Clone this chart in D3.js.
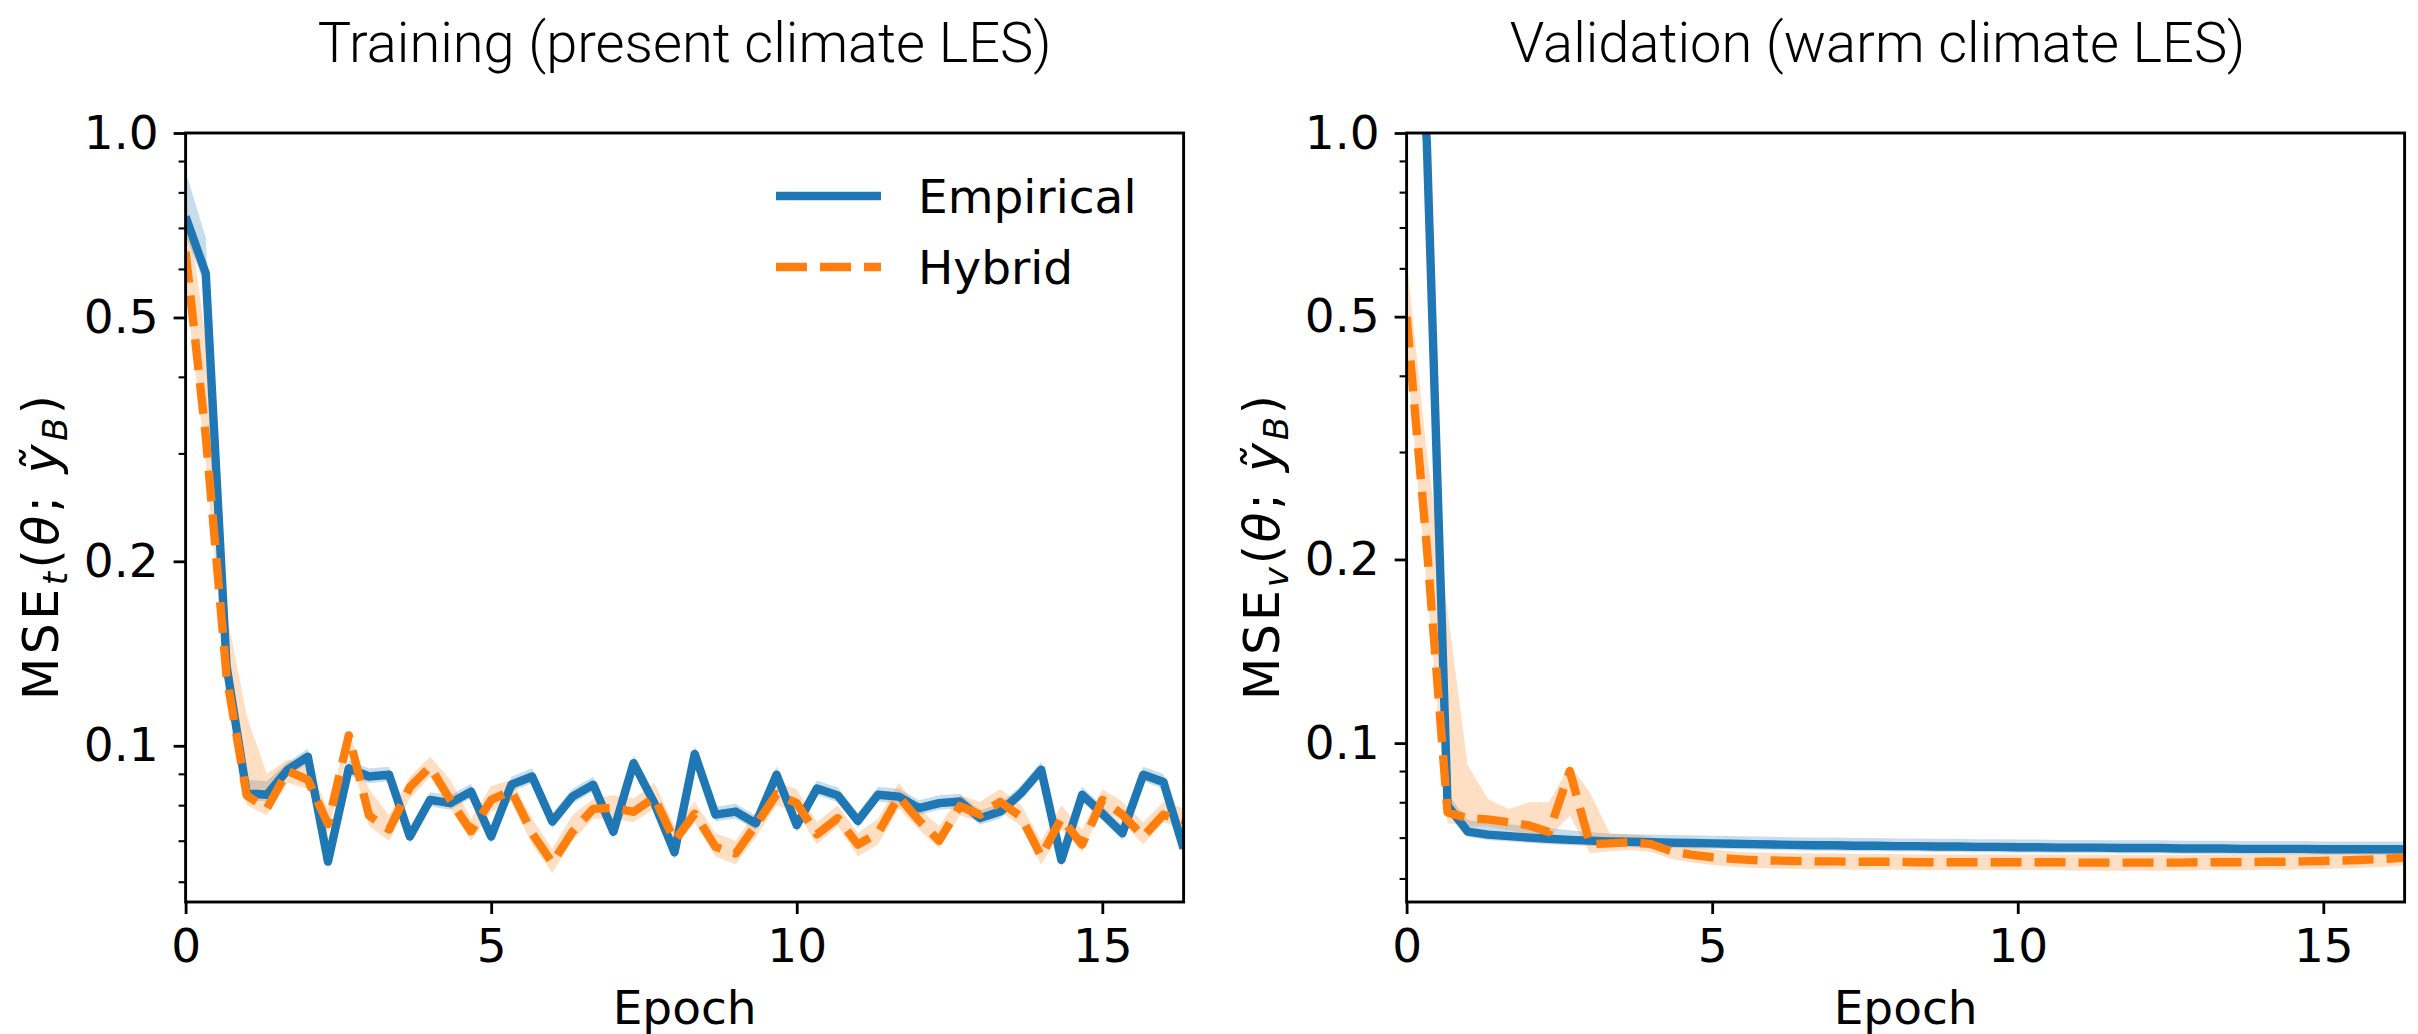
<!DOCTYPE html>
<html>
<head>
<meta charset="utf-8">
<script src="https://cdn.jsdelivr.net/npm/d3@7"></script>
<style>
  body { margin: 0; background: #fff; }
  svg { display: block; }
</style>
</head>
<body>
<svg id="figure" width="2418" height="1034"></svg>
<script>
// epochs (one value every third of an epoch)
const epochs = [0, 0.33, 0.67, 1, 1.33, 1.67, 2, 2.33, 2.67, 3, 3.33, 3.67, 4, 4.33, 4.67, 5, 5.33, 5.67, 6, 6.33,
    6.67, 7, 7.33, 7.67, 8, 8.33, 8.67, 9, 9.33, 9.67, 10, 10.33, 10.67, 11, 11.33, 11.67, 12, 12.33, 12.67, 13,
    13.33, 13.67, 14, 14.33, 14.67, 15, 15.33, 15.67, 16, 16.33];

// training loss, present climate LES
const trainEmpirical = [0.73, 0.59, 0.135, 0.0837, 0.0832, 0.0914, 0.0960, 0.0647, 0.0919, 0.0891,
    0.0897, 0.0711, 0.0816, 0.0806, 0.0842, 0.0711, 0.0864, 0.0891, 0.0752, 0.0826,
    0.0864, 0.0724, 0.0937, 0.0806, 0.0670, 0.0970, 0.0772, 0.0781, 0.0747, 0.0897,
    0.0742, 0.0852, 0.0830, 0.0754, 0.0832, 0.0826, 0.0791, 0.0806, 0.0811, 0.0762,
    0.0781, 0.0837, 0.0914, 0.0651, 0.0832, 0.0775, 0.0720, 0.0897, 0.0873, 0.0680];
const trainEmpiricalLo = [0.68, 0.56, 0.131, 0.0816, 0.0811, 0.0891, 0.0936, 0.0631, 0.0896, 0.0869,
    0.0875, 0.0693, 0.0796, 0.0786, 0.0821, 0.0693, 0.0842, 0.0869, 0.0733, 0.0805,
    0.0842, 0.0706, 0.0914, 0.0786, 0.0653, 0.0946, 0.0753, 0.0761, 0.0728, 0.0875,
    0.0723, 0.0831, 0.0809, 0.0735, 0.0811, 0.0805, 0.0771, 0.0786, 0.0791, 0.0743,
    0.0761, 0.0816, 0.0891, 0.0635, 0.0811, 0.0756, 0.0702, 0.0875, 0.0851, 0.0663];
const trainEmpiricalHi = [0.865, 0.675, 0.140, 0.0880, 0.0875, 0.0941, 0.0989, 0.0666, 0.0947, 0.0918,
    0.0924, 0.0732, 0.0840, 0.0830, 0.0867, 0.0732, 0.0890, 0.0918, 0.0775, 0.0851,
    0.0890, 0.0746, 0.0965, 0.0830, 0.0690, 0.0999, 0.0795, 0.0804, 0.0769, 0.0924,
    0.0764, 0.0878, 0.0855, 0.0777, 0.0857, 0.0851, 0.0815, 0.0830, 0.0835, 0.0785,
    0.0804, 0.0862, 0.0941, 0.0671, 0.0857, 0.0798, 0.0742, 0.0924, 0.0899, 0.0700];

const trainHybrid = [0.64, 0.32, 0.130, 0.083, 0.079, 0.091, 0.088, 0.0745, 0.104, 0.077,
    0.073, 0.0856, 0.0924, 0.0816, 0.0725, 0.0816, 0.0845, 0.0720, 0.0644, 0.0724,
    0.0789, 0.0792, 0.0780, 0.0823, 0.0700, 0.0775, 0.0684, 0.0667, 0.0742, 0.0834,
    0.0806, 0.0717, 0.0762, 0.069, 0.072, 0.0826, 0.0755, 0.0700, 0.0797, 0.0772,
    0.0810, 0.0766, 0.0660, 0.0762, 0.0690, 0.0816, 0.0772, 0.0711, 0.0772, 0.0754];
const trainHybridLo = [0.56, 0.29, 0.125, 0.080, 0.077, 0.087, 0.085, 0.072, 0.099, 0.074,
    0.070, 0.082, 0.089, 0.079, 0.070, 0.078, 0.081, 0.069, 0.062, 0.070,
    0.076, 0.076, 0.075, 0.079, 0.068, 0.075, 0.066, 0.064, 0.071, 0.080,
    0.078, 0.069, 0.074, 0.066, 0.069, 0.079, 0.073, 0.068, 0.077, 0.075,
    0.078, 0.074, 0.064, 0.073, 0.067, 0.079, 0.075, 0.069, 0.075, 0.073];
const trainHybridHi = [0.80, 0.46, 0.165, 0.112, 0.090, 0.095, 0.093, 0.079, 0.106, 0.085,
    0.077, 0.089, 0.096, 0.088, 0.076, 0.086, 0.088, 0.076, 0.068, 0.077,
    0.082, 0.083, 0.082, 0.087, 0.074, 0.081, 0.072, 0.070, 0.078, 0.087,
    0.085, 0.075, 0.080, 0.072, 0.076, 0.087, 0.079, 0.074, 0.083, 0.081,
    0.085, 0.080, 0.070, 0.080, 0.073, 0.085, 0.081, 0.075, 0.081, 0.079];

// validation loss, warm climate LES
const validEmpirical = [3.0, 0.97, 0.079, 0.0716, 0.0708, 0.0704, 0.0700, 0.0697, 0.0694, 0.0692,
    0.0690, 0.0689, 0.0688, 0.0687, 0.0686, 0.0685, 0.0684, 0.0683, 0.0682, 0.0681,
    0.0680, 0.0680, 0.0679, 0.0679, 0.0678, 0.0678, 0.0677, 0.0677, 0.0676, 0.0676,
    0.0675, 0.0675, 0.0674, 0.0674, 0.0674, 0.0673, 0.0673, 0.0673, 0.0672, 0.0672,
    0.0672, 0.0671, 0.0671, 0.0671, 0.0671, 0.0670, 0.0670, 0.0670, 0.0670, 0.0670];
const validEmpiricalLo = [2.8, 0.92, 0.077, 0.0702, 0.0694, 0.0690, 0.0686, 0.0683, 0.0680, 0.0678,
    0.0676, 0.0675, 0.0674, 0.0673, 0.0672, 0.0671, 0.0670, 0.0669, 0.0668, 0.0667,
    0.0666, 0.0666, 0.0665, 0.0665, 0.0664, 0.0664, 0.0663, 0.0663, 0.0662, 0.0662,
    0.0661, 0.0661, 0.0660, 0.0660, 0.0660, 0.0659, 0.0659, 0.0659, 0.0658, 0.0658,
    0.0658, 0.0657, 0.0657, 0.0657, 0.0657, 0.0656, 0.0656, 0.0656, 0.0656, 0.0656];
const validEmpiricalHi = [3.2, 1.02, 0.0825, 0.0748, 0.0740, 0.0736, 0.0731, 0.0726, 0.0720, 0.0714,
    0.0711, 0.0709, 0.0708, 0.0707, 0.0706, 0.0705, 0.0704, 0.0703, 0.0702, 0.0701,
    0.0700, 0.0700, 0.0699, 0.0699, 0.0698, 0.0698, 0.0697, 0.0697, 0.0696, 0.0696,
    0.0695, 0.0695, 0.0694, 0.0694, 0.0694, 0.0693, 0.0693, 0.0693, 0.0692, 0.0692,
    0.0692, 0.0691, 0.0691, 0.0691, 0.0691, 0.0690, 0.0690, 0.0690, 0.0690, 0.0690];

const validHybrid = [0.50, 0.21, 0.077, 0.0753, 0.0750, 0.0742, 0.0733, 0.0715, 0.0900, 0.0683,
    0.0685, 0.0688, 0.0683, 0.0665, 0.0656, 0.0650, 0.0646, 0.0643, 0.0642, 0.0641,
    0.0640, 0.0640, 0.0639, 0.0639, 0.0639, 0.0638, 0.0638, 0.0638, 0.0638, 0.0638,
    0.0638, 0.0638, 0.0638, 0.0637, 0.0637, 0.0637, 0.0637, 0.0637, 0.0637, 0.0638,
    0.0638, 0.0638, 0.0639, 0.0639, 0.0640, 0.0641, 0.0642, 0.0644, 0.0646, 0.0649];
const validHybridLo = [0.44, 0.18, 0.074, 0.073, 0.073, 0.072, 0.071, 0.070, 0.076, 0.066,
    0.0665, 0.0668, 0.0663, 0.0646, 0.0637, 0.0631, 0.0627, 0.0624, 0.0623, 0.0622,
    0.0621, 0.0621, 0.0620, 0.0620, 0.0620, 0.0619, 0.0619, 0.0619, 0.0619, 0.0619,
    0.0619, 0.0619, 0.0619, 0.0618, 0.0618, 0.0618, 0.0618, 0.0618, 0.0618, 0.0619,
    0.0619, 0.0619, 0.0620, 0.0620, 0.0621, 0.0622, 0.0623, 0.0625, 0.0627, 0.0630];
const validHybridHi = [0.62, 0.30, 0.165, 0.092, 0.081, 0.078, 0.080, 0.080, 0.092, 0.083,
    0.0710, 0.0708, 0.0703, 0.0685, 0.0676, 0.0670, 0.0665, 0.0662, 0.0661, 0.0660,
    0.0659, 0.0659, 0.0658, 0.0658, 0.0658, 0.0657, 0.0657, 0.0657, 0.0657, 0.0657,
    0.0657, 0.0657, 0.0657, 0.0656, 0.0656, 0.0656, 0.0656, 0.0656, 0.0656, 0.0657,
    0.0657, 0.0657, 0.0658, 0.0658, 0.0659, 0.0660, 0.0661, 0.0663, 0.0665, 0.0668];

// axis ticks and labels
const xTicks = [0, 5, 10, 15];
const yTicks = [0.1, 0.2, 0.5, 1.0];
const yMinorTicks = [0.06, 0.07, 0.08, 0.09, 0.3, 0.4, 0.6, 0.7, 0.8, 0.9];
const seriesNames = ['Empirical', 'Hybrid'];
const panelTitles = ['Training (present climate LES)', 'Validation (warm climate LES)'];
const ySubscripts = ['t', 'v'];

const BLUE = '#1f77b4';
const ORANGE = '#ff7f0e';
const FONT = 'DejaVu Sans';

class LossPanel {
    constructor(svg, opts) {
        this.svg = svg;
        this.opts = opts;

        this.MARGIN = {left: opts.left, top: 133};
        this.WIDTH = 998;
        this.HEIGHT = 769;

        this.xScale = d3.scaleLinear()
            .domain([0, 16.33])
            .range([0, this.WIDTH]);

        this.yScale = d3.scaleLog()
            .domain(opts.yDomain)
            .range([this.HEIGHT, 0]);

        this.g = svg.append('g')
            .attr('transform', `translate(${this.MARGIN.left}, ${this.MARGIN.top})`);

        this.g.append('clipPath')
            .attr('id', opts.id + '-clip')
            .append('rect')
            .attr('width', this.WIDTH)
            .attr('height', this.HEIGHT);

        this.drawChart();
    }

    drawChart() {
        this.drawBands();
        this.drawLines();
        this.drawAxis();
        this.drawLabelsAndTitles();
        if (this.opts.legend) this.drawLegend();
    }

    drawBands() {
        let area = d3.area()
            .x((d, i) => this.xScale(epochs[i]))
            .y0(d => this.yScale(d[0]))
            .y1(d => this.yScale(d[1]));

        let content = this.g.append('g').attr('clip-path', `url(#${this.opts.id}-clip)`);
        this.opts.series.forEach(s => {
            content.append('path')
                .datum(s.lo.map((v, i) => [v, s.hi[i]]))
                .attr('d', area)
                .attr('fill', s.color)
                .attr('fill-opacity', 0.25);
        });
    }

    drawLines() {
        let line = d3.line()
            .x((d, i) => this.xScale(epochs[i]))
            .y(d => this.yScale(d));

        let content = this.g.append('g').attr('clip-path', `url(#${this.opts.id}-clip)`);
        this.opts.series.forEach(s => {
            content.append('path')
                .datum(s.values)
                .attr('d', line)
                .attr('fill', 'none')
                .attr('stroke', s.color)
                .attr('stroke-width', 8.4)
                .attr('stroke-linejoin', 'round')
                .attr('stroke-dasharray', s.dash);
        });
    }

    drawAxis() {
        let xAxis = d3.axisBottom(this.xScale)
            .tickValues(xTicks)
            .tickSize(12)
            .tickPadding(15)
            .tickFormat(d3.format('d'));

        let yAxis = d3.axisLeft(this.yScale)
            .tickValues(yTicks)
            .tickSize(12)
            .tickPadding(15)
            .tickFormat(d3.format('.1f'));

        let yMinor = d3.axisLeft(this.yScale)
            .tickValues(yMinorTicks)
            .tickSize(7)
            .tickFormat('');

        let gx = this.g.append('g')
            .attr('transform', `translate(0, ${this.HEIGHT})`)
            .call(xAxis);
        let gy = this.g.append('g').call(yAxis);
        let gm = this.g.append('g').call(yMinor);

        [gx, gy, gm].forEach(a => {
            a.select('.domain').remove();
            a.selectAll('.tick line').attr('stroke', '#000').attr('stroke-width', 2.8);
            a.selectAll('.tick text')
                .attr('fill', '#000')
                .style('font-family', FONT)
                .style('font-size', '47px');
        });
        gm.selectAll('.tick line').attr('stroke-width', 2.1);

        // frame
        this.g.append('rect')
            .attr('width', this.WIDTH)
            .attr('height', this.HEIGHT)
            .attr('fill', 'none')
            .attr('stroke', '#000')
            .attr('stroke-width', 2.9);
    }

    drawLabelsAndTitles() {
        // panel title
        this.g.append('text')
            .attr('x', this.WIDTH / 2 + this.opts.titleShift)
            .attr('y', 62 - this.MARGIN.top)
            .attr('text-anchor', 'middle')
            .style('font-family', 'Roboto')
            .style('font-weight', 300)
            .style('font-size', '56px')
            .text(this.opts.title);

        // x label
        this.g.append('text')
            .attr('x', this.WIDTH / 2)
            .attr('y', 1024 - this.MARGIN.top)
            .attr('text-anchor', 'middle')
            .style('font-family', FONT)
            .style('font-size', '47px')
            .text('Epoch');

        // y label, MSE_t(theta; y~_B); mathtext spacing is looser, so stretch the spacing
        let yl = this.g.append('text')
            .attr('transform', `translate(-128, ${this.HEIGHT / 2 + 30}) rotate(-90)`)
            .attr('text-anchor', 'middle')
            .attr('textLength', 305)
            .attr('lengthAdjust', 'spacing')
            .style('font-family', FONT)
            .style('font-size', '49px');
        yl.append('tspan').text('MSE');
        yl.append('tspan').attr('dy', 9).style('font-size', '34px').style('font-style', 'italic').text(this.opts.sub);
        yl.append('tspan').attr('dy', -9).text('(');
        yl.append('tspan').style('font-style', 'italic').text('θ');
        yl.append('tspan').text('; ');
        yl.append('tspan').style('font-style', 'italic').text('ỹ');
        yl.append('tspan').attr('dy', 9).style('font-size', '34px').style('font-style', 'italic').text('B');
        yl.append('tspan').attr('dy', -9).text(')');
    }

    drawLegend() {
        let items = this.g.append('g')
            .selectAll('g')
            .data(this.opts.series)
            .join('g')
            .attr('transform', (d, i) => `translate(${776 - this.MARGIN.left}, ${196 + i * 71 - this.MARGIN.top})`);

        items.append('line')
            .attr('x1', 0)
            .attr('x2', 105)
            .attr('stroke', d => d.color)
            .attr('stroke-width', 8.4)
            .attr('stroke-dasharray', d => d.dash);

        items.append('text')
            .attr('x', 142)
            .attr('dy', '0.36em')
            .style('font-family', FONT)
            .style('font-size', '47px')
            .text(d => d.name);
    }
}

const svg = d3.select('#figure');

new LossPanel(svg, {
    id: 'train',
    left: 185.6,
    yDomain: [0.0556, 1.0],
    title: panelTitles[0],
    titleShift: 0,
    sub: ySubscripts[0],
    legend: true,
    series: [
        {name: seriesNames[0], color: BLUE, dash: null, values: trainEmpirical, lo: trainEmpiricalLo, hi: trainEmpiricalHi},
        {name: seriesNames[1], color: ORANGE, dash: '31,13', values: trainHybrid, lo: trainHybridLo, hi: trainHybridHi}
    ]
});

new LossPanel(svg, {
    id: 'valid',
    left: 1406.6,
    yDomain: [0.0549, 1.0],
    title: panelTitles[1],
    titleShift: -28,
    sub: ySubscripts[1],
    legend: false,
    series: [
        {name: seriesNames[0], color: BLUE, dash: null, values: validEmpirical, lo: validEmpiricalLo, hi: validEmpiricalHi},
        {name: seriesNames[1], color: ORANGE, dash: '31,13', values: validHybrid, lo: validHybridLo, hi: validHybridHi}
    ]
});
</script>
</body>
</html>
